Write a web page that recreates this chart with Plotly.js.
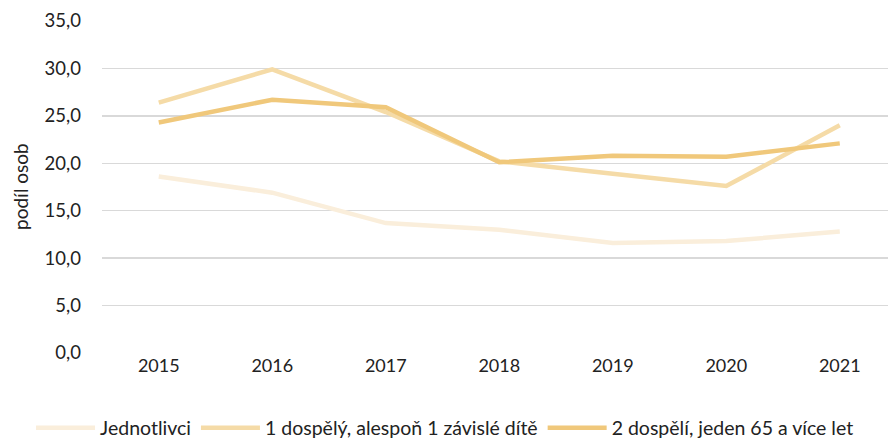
<!DOCTYPE html>
<html>
<head>
<meta charset="utf-8">
<script src="https://cdn.plot.ly/plotly-3.0.1.min.js"></script>
<style>html,body{margin:0;padding:0;background:#fff;}#chart{width:888px;height:441px;}</style>
</head>
<body>
<div id="chart"></div>
<script>
const years = [2015, 2016, 2017, 2018, 2019, 2020, 2021];
const jednotlivci = [18.6, 16.9, 13.7, 13.0, 11.6, 11.8, 12.8];
const jedenDospely = [26.4, 29.9, 25.4, 20.2, 18.9, 17.6, 24.0];
const dvaDospeli = [24.3, 26.7, 25.9, 20.1, 20.8, 20.7, 22.1];
const seriesNames = ["Jednotlivci", "1 dospělý, alespoň 1 závislé dítě", "2 dospělí, jeden 65 a více let"];
const yTicks = [0, 5, 10, 15, 20, 25, 30, 35];
const yTitle = "podíl osob";

const colors = ["#FAEEDB", "#F5DBA7", "#F0C87B"];
const font = "Lato, 'Open Sans', sans-serif";

const traces = [jednotlivci, jedenDospely, dvaDospeli].map((vals, i) => ({
  type: "scatter",
  mode: "lines",
  x: years,
  y: vals,
  name: seriesNames[i],
  line: {color: colors[i], width: 4.5, shape: "linear"},
  hoverinfo: "skip"
}));

const layout = {
  width: 888,
  height: 441,
  margin: {l: 102, r: 0, t: 21, b: 88, autoexpand: false},
  paper_bgcolor: "#fff",
  plot_bgcolor: "#fff",
  separators: ", ",
  font: {family: font, size: 18, color: "#222"},
  xaxis: {
    range: [2014.5, 2021.425],
    tickvals: years,
    ticktext: years.map(String),
    showgrid: false,
    zeroline: false,
    showline: false,
    ticks: "",
    tickfont: {family: font, size: 18, color: "#222"},
    fixedrange: true
  },
  yaxis: {
    range: [0, 35],
    tickvals: yTicks,
    tickformat: ".1f",
    showgrid: true,
    gridcolor: "#D9D9D9",
    gridwidth: 1.5,
    zeroline: false,
    showline: false,
    ticks: "",
    ticklabelstandoff: 20,
    tickfont: {family: font, size: 18.5, color: "#222"},
    fixedrange: true
  },
  annotations: [{
    text: yTitle,
    xref: "paper",
    yref: "paper",
    x: -0.1043,
    y: 0.5,
    xanchor: "center",
    yanchor: "middle",
    textangle: -90,
    showarrow: false,
    font: {family: font, size: 19, color: "#222"}
  }],
  showlegend: true,
  legend: {
    orientation: "h",
    xref: "paper",
    yref: "paper",
    x: -0.0903,
    xanchor: "left",
    y: -0.226,
    yanchor: "middle",
    font: {family: font, size: 19.5, color: "#222"},
    itemwidth: 59,
    tracegroupgap: 0
  }
};

Plotly.newPlot("chart", traces, layout, {displayModeBar: false, staticPlot: true});
</script>
</body>
</html>
